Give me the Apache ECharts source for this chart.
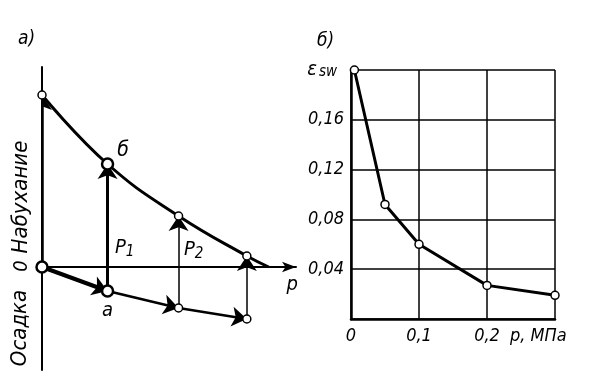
<!DOCTYPE html>
<html><head><meta charset="utf-8">
<script src="https://cdn.jsdelivr.net/npm/echarts@6/dist/echarts.min.js"></script>
<style>html,body{margin:0;padding:0;background:#fff}#c{width:596px;height:383px}</style>
</head><body><div id="c"></div>
<script>
// ---- Panel а) schematic (arbitrary units) ----
const loadSteps   = [0, 0.96, 2.0, 3.0];          // p, p1, p2, p3
const swellValues = [8.6, 5.15, 2.55, 0.55];      // swelling after wetting
const settleValues = [0, -1.2, -2.05, -2.6];      // settlement under load
const swellEnd = [3.32, 0];                       // curve meets the p axis
const pointNames = ['', 'а', '', ''];
const swellNames = ['', 'б', '', ''];
// ---- Panel б) relative swelling vs pressure ----
const pressure = [0.005, 0.05, 0.1, 0.2, 0.3];
const esw = [0.2, 0.092, 0.06, 0.027, 0.019];
const xTickLabels = {0: '0', 0.1: '0,1', 0.2: '0,2'};
const yTickLabels = {0.04: '0,04', 0.08: '0,08', 0.12: '0,12', 0.16: '0,16'};

const FF = "'DejaVu Sans Condensed','DejaVu Sans',sans-serif";
const txt = (size) => ({fontFamily: FF, fontStyle: 'italic', fontSize: size, color: '#000'});

const chart = echarts.init(document.getElementById('c'), null, {renderer: 'canvas'});

const settleSegs = [];
for (let i = 0; i < loadSteps.length - 1; i++) {
  settleSegs.push({coords: [[loadSteps[i], settleValues[i]], [loadSteps[i + 1], settleValues[i + 1]]],
                   lineStyle: {width: i === 0 ? 4 : 2.5}});
}
const vertSegs = loadSteps.map((p, i) => ({
  coords: [[p, settleValues[i]], [p, swellValues[i]]],
  lineStyle: {width: i === 0 ? 2.5 : (i === 1 ? 3 : 1.5)}
}));
const swellCurve = loadSteps.map((p, i) => [p, swellValues[i]]).concat([swellEnd]);

const big = (i) => i === 0 || i === 1;
const markerSettle = loadSteps.map((p, i) => ({
  value: [p, settleValues[i]], symbolSize: big(i) ? 11 : 8,
  itemStyle: {borderWidth: big(i) ? 2.5 : 1.5},
  label: {show: !!pointNames[i], formatter: pointNames[i], position: 'bottom', distance: 3, ...txt(20)}
}));
const markerSwell = loadSteps.map((p, i) => ({
  value: [p, swellValues[i]], symbolSize: i === 1 ? 11 : 8,
  itemStyle: {borderWidth: i === 1 ? 2.5 : 1.5},
  label: {show: !!swellNames[i], formatter: swellNames[i], position: 'right', distance: 3, offset: [0, -13], ...txt(21)}
}));

const option = {
  animation: false,
  backgroundColor: '#fff',
  grid: [
    {left: 42, top: 67, width: 254, height: 303},
    {left: 351, top: 70, width: 204, height: 249}
  ],
  xAxis: [
    {gridIndex: 0, type: 'value', min: 0, max: 3.72,
     axisLine: {show: true, onZero: true, symbol: ['none', 'arrow'], symbolSize: [8, 14], lineStyle: {color: '#000', width: 2}},
     axisTick: {show: false}, axisLabel: {show: false}, splitLine: {show: false},
     name: 'p', nameLocation: 'end', nameGap: 2,
     nameTextStyle: {...txt(20), align: 'right', verticalAlign: 'top', padding: [8, 0, 0, 0]}},
    {gridIndex: 1, type: 'value', min: 0, max: 0.3, interval: 0.1,
     axisLine: {show: true, onZero: false, lineStyle: {color: '#000', width: 2.5}},
     axisTick: {show: false},
     axisLabel: {margin: 8, ...txt(18), formatter: (v) => {
       const k = Math.round(v * 10) / 10; return xTickLabels[k] !== undefined ? xTickLabels[k] : ''; }},
     splitLine: {show: true, lineStyle: {color: '#000', width: 1.5}}}
  ],
  yAxis: [
    {gridIndex: 0, type: 'value', min: -5.15, max: 10,
     axisLine: {show: true, onZero: true, lineStyle: {color: '#000', width: 2}},
     axisTick: {show: false}, axisLabel: {show: false}, splitLine: {show: false}},
    {gridIndex: 1, type: 'value', min: 0, max: 0.2, interval: 0.04,
     axisLine: {show: true, onZero: false, lineStyle: {color: '#000', width: 2.5}},
     axisTick: {show: false},
     axisLabel: {margin: 7, ...txt(18), formatter: (v) => {
       const k = Math.round(v * 100) / 100;
       if (k === 0.2) return '{e|ε}{s|sw}';
       return yTickLabels[k] !== undefined ? yTickLabels[k] : ''; },
       rich: {e: {...txt(20), padding: [0, 2, 0, 0]}, s: {...txt(15), padding: [4, 7, 0, 0]}}},
     splitLine: {show: true, lineStyle: {color: '#000', width: 1.5}}}
  ],
  series: [
    {type: 'line', xAxisIndex: 0, yAxisIndex: 0, data: swellCurve, smooth: 0.45,
     showSymbol: false, lineStyle: {color: '#000', width: 3}},
    {type: 'lines', coordinateSystem: 'cartesian2d', xAxisIndex: 0, yAxisIndex: 0,
     symbol: ['none', 'arrow'], symbolSize: 15,
     lineStyle: {color: '#000', opacity: 1}, data: settleSegs.concat(vertSegs)},
    {type: 'scatter', xAxisIndex: 0, yAxisIndex: 0, symbol: 'circle',
     itemStyle: {color: '#fff', borderColor: '#000', opacity: 1}, data: markerSettle.concat(markerSwell), z: 5},
    {type: 'line', xAxisIndex: 1, yAxisIndex: 1, data: pressure.map((p, i) => [p, esw[i]]),
     symbol: 'circle', symbolSize: 8, itemStyle: {color: '#fff', borderColor: '#000', borderWidth: 1.5},
     lineStyle: {color: '#000', width: 3}, z: 5}
  ],
  graphic: [
    {type: 'text', left: 18, top: 30, style: {text: 'а)', fill: '#000', font: "italic 19px 'DejaVu Sans Condensed'"}},
    {type: 'text', left: 317, top: 32, style: {text: 'б)', fill: '#000', font: "italic 19px 'DejaVu Sans Condensed'"}},
    {type: 'text', x: 21, y: 197, rotation: Math.PI / 2,
     style: {text: 'Набухание', fill: '#000', font: "italic 22px 'DejaVu Sans Condensed'", align: 'center', verticalAlign: 'middle'}},
    {type: 'text', x: 22, y: 266, rotation: Math.PI / 2,
     style: {text: '0', fill: '#000', font: "italic 20px 'DejaVu Sans Condensed'", align: 'center', verticalAlign: 'middle'}},
    {type: 'text', x: 20, y: 328, rotation: Math.PI / 2,
     style: {text: 'Осадка', fill: '#000', font: "italic 22px 'DejaVu Sans Condensed'", align: 'center', verticalAlign: 'middle'}},
    {type: 'text', left: 115, top: 238,
     style: {text: '{a|P}{b|1}', rich: {a: {font: "italic 20px 'DejaVu Sans Condensed'", fill: '#000'},
       b: {font: "italic 15px 'DejaVu Sans Condensed'", fill: '#000', padding: [8, 0, 0, 0]}}}},
    {type: 'text', left: 184, top: 240,
     style: {text: '{a|P}{b|2}', rich: {a: {font: "italic 20px 'DejaVu Sans Condensed'", fill: '#000'},
       b: {font: "italic 15px 'DejaVu Sans Condensed'", fill: '#000', padding: [8, 0, 0, 0]}}}},
    {type: 'text', left: 510, top: 327,
     style: {text: 'p, МПа', fill: '#000', font: "italic 18px 'DejaVu Sans Condensed'"}}
  ]
};
chart.setOption(option);
</script></body></html>
